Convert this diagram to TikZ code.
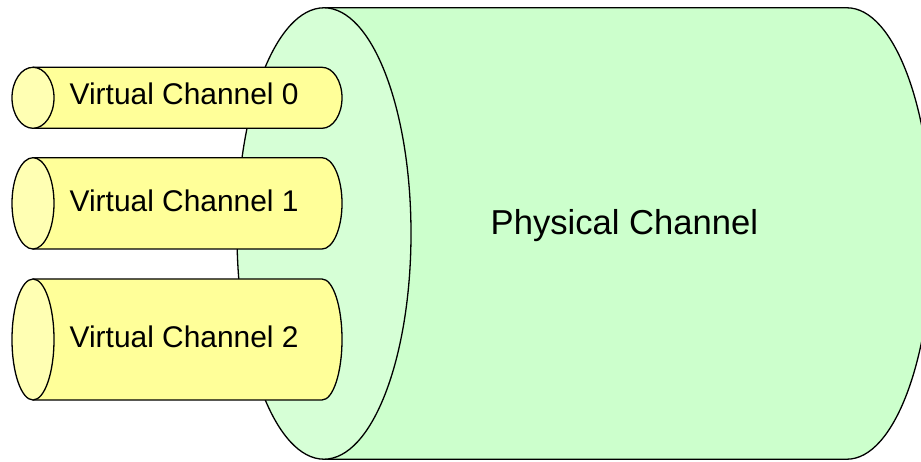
\documentclass[tikz,border=0pt]{standalone}
\usepackage{fontspec}
\setmainfont{Liberation Sans}
\definecolor{gbody}{RGB}{204,255,204}
\definecolor{gface}{RGB}{214,255,214}
\definecolor{ybody}{RGB}{255,255,153}
\definecolor{yface}{RGB}{255,255,179}
\tikzset{
  outline/.style={draw=black, line width=1.3pt, line join=round},
  vclabel/.style={anchor=base west, inner sep=0pt, font=\fontsize{29.9}{34}\selectfont},
  pclabel/.style={anchor=base west, inner sep=0pt, font=\fontsize{34.6}{40}\selectfont},
}
\newcommand{\vcylinder}[3]{% center y, y radius, fill
  \draw[outline, fill=ybody] (33,#1+#2) -- (322,#1+#2)
    arc[start angle=90, end angle=-90, x radius=20, y radius=#2]
    -- (33,#1-#2) -- cycle;
  \draw[outline, fill=yface] (33,#1) ellipse[x radius=21, y radius=#2];
}
\begin{document}
\begin{tikzpicture}[x=1pt,y=1pt]
\useasboundingbox (0,0) rectangle (921,461);
\begin{scope}
\clip (0,0) rectangle (921,461);
% physical channel
\draw[outline, fill=gbody] (324,453.2) -- (847,453.2)
  arc[start angle=90, end angle=-90, x radius=85, y radius=225.7]
  -- (324,1.8) -- cycle;
\draw[outline, fill=gface] (324,227.5) ellipse[x radius=87, y radius=225.7];
\end{scope}
\node[pclabel] (pc) at (490.5,226.7) {Physical Channel};
% virtual channels
\vcylinder{363.2}{30.5}{}
\node[vclabel] (vc0) at (69.5,356) {Virtual Channel 0};
\vcylinder{257.65}{45.65}{}
\node[vclabel] (vc1) at (69.5,249) {Virtual Channel 1};
\vcylinder{121.5}{60.5}{}
\node[vclabel] (vc2) at (69.5,113.3) {Virtual Channel 2};
\end{tikzpicture}
\end{document}
